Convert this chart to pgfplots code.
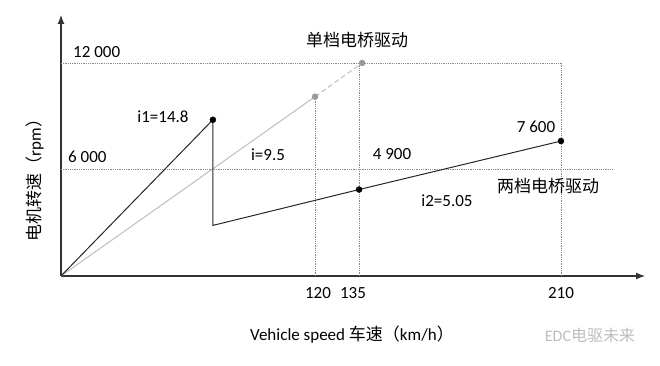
\documentclass[border=0pt]{standalone}
\usepackage{pgfplots}
\pgfplotsset{compat=1.18}
\usepackage{fontspec}
\setmainfont{Carlito}
\newfontfamily\cjk{Noto Sans CJK SC}
\usetikzlibrary{arrows.meta}
\definecolor{axcol}{HTML}{333333}
\definecolor{lgray}{HTML}{BDBDBD}
\definecolor{dgray}{HTML}{999999}
\definecolor{dotc}{HTML}{8A8A8A}
\begin{document}
\begin{tikzpicture}[x=1pt,y=1pt,font=\fontsize{17}{20}\selectfont]
\path[use as bounding box] (0,0) rectangle (660,365);
\begin{axis}[
  at={(61pt,89pt)}, anchor=south west,
  scale only axis, width=584pt, height=261pt,
  xmin=0, xmax=245.3, ymin=0, ymax=14700,
  axis x line=bottom, axis y line=left,
  axis line style={axcol, line width=1.1pt, -{Latex[length=9pt,width=7pt]}},
  xtick={106.7,125.2,210}, xticklabels={,,},
  ytick=\empty,
  major tick length=0pt,
  clip=false,
]
% dotted guide lines
\addplot[dotc, densely dotted, line width=0.8pt] coordinates {(0,12000) (210,12000)};
\addplot[dotc, densely dotted, line width=0.8pt] coordinates {(0,6000) (231.4,6000)};
\addplot[dotc, densely dotted, line width=0.8pt] coordinates {(106.7,0) (106.7,10100)};
\addplot[dotc, densely dotted, line width=0.8pt] coordinates {(125.2,0) (125.2,12000)};
\addplot[dotc, densely dotted, line width=0.8pt] coordinates {(210,0) (210,12000)};
% single-speed line
\addplot[lgray, line width=1pt] coordinates {(0,0) (106.7,10100)};
\addplot[lgray, dashed, line width=1pt, dash pattern=on 5pt off 3pt] coordinates {(106.7,10100) (126.5,12000)};
\addplot[only marks, mark=*, mark size=3pt, dgray] coordinates {(106.7,10100) (126.5,12000)};
% two-speed line
\addplot[black!85, line width=1pt] coordinates {(0,0) (63.8,8800) (63.8,2850) (125.2,4870) (210,7600)};
\addplot[only marks, mark=*, mark size=3pt, black] coordinates {(63.8,8800) (125.2,4870) (210,7600)};
\end{axis}
% tick labels
\node at (318,72) {120};
\node at (353,72) {135};
\node at (561,72) {210};
% labels
\node[anchor=west, inner sep=0] at (73,313) {12 000};
\node[anchor=west, inner sep=0] at (68,208) {6 000};
\node at (357,325) {\cjk 单档电桥驱动};
\node at (163,248) {i1=14.8};
\node at (268,210) {i=9.5};
\node at (392,211) {4 900};
\node at (536,238) {7 600};
\node at (548,179) {\cjk 两档电桥驱动};
\node at (447,164) {i2=5.05};
\node at (352,30) {Vehicle speed {\cjk 车速（}km/h{\cjk ）}};
\node[rotate=90] at (35,189) {{\cjk 电机转速（}rpm{\cjk ）}};
\node[text=lgray, font=\fontsize{16}{18}\selectfont] at (590,30) {EDC{\cjk 电驱未来}};
\end{tikzpicture}
\end{document}
